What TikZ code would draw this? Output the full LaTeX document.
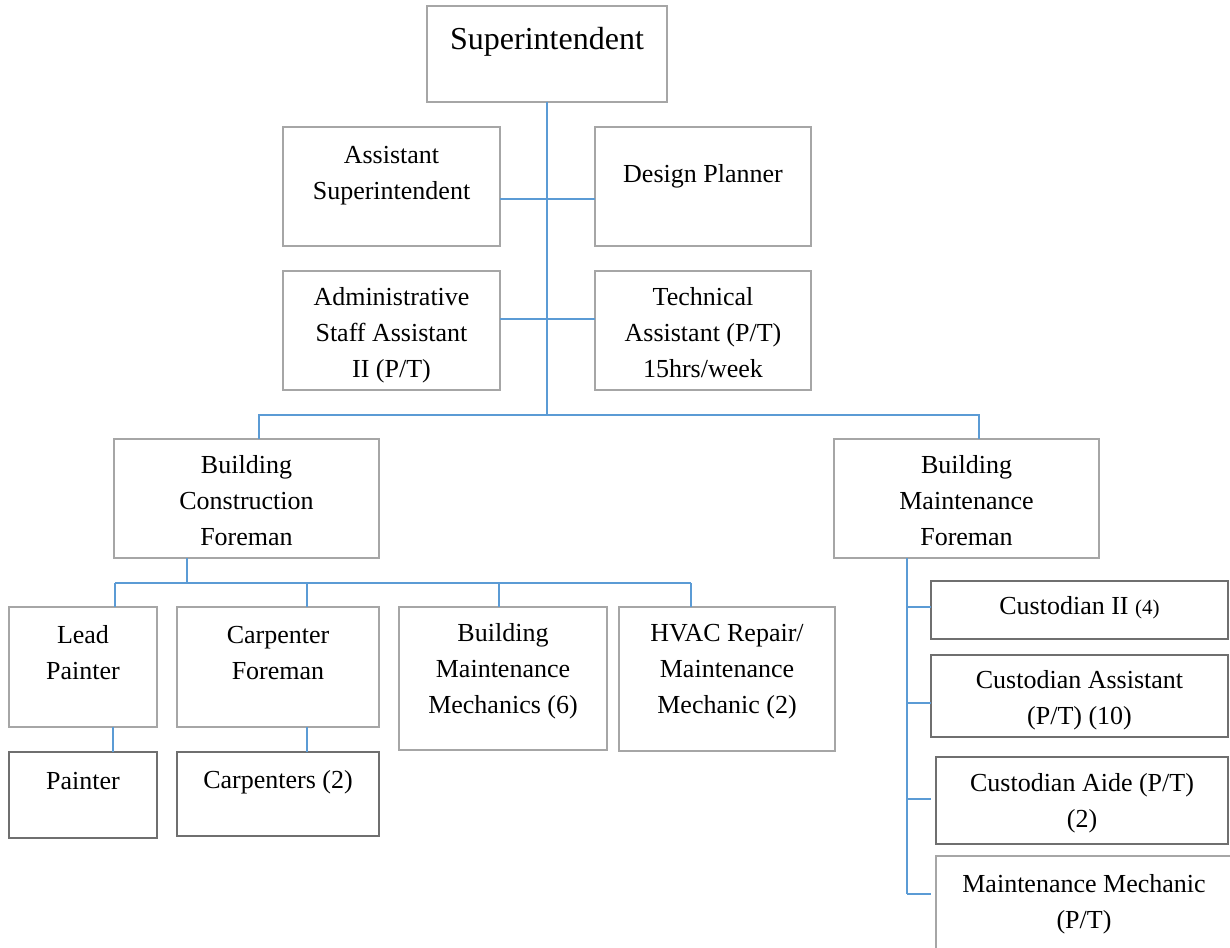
\documentclass[tikz,border=0pt]{standalone}
\usepackage{fontspec}
\setmainfont{Liberation Serif}
\usetikzlibrary{calc}

\definecolor{linkblue}{HTML}{5B9BD5}
\definecolor{boxgray}{HTML}{A6A6A6}
\definecolor{boxdark}{HTML}{6F6F6F}

\tikzset{
  orgbox/.style={draw=boxgray, line width=1.3pt, fill=white, inner sep=0pt,
                 outer sep=0pt, font={\fontsize{26}{36}\selectfont}},
  darkbox/.style={orgbox, draw=boxdark},
  link/.style={draw=linkblue, line width=2pt},
}

% #1 name, #2 style, #3 left, #4 top, #5 width, #6 height,
% #7 distance from top edge to first baseline, #8 text
\newcommand{\orgnode}[8]{%
  \node[#2, anchor=north west] (#1) at (#3,#4)
    {\parbox[t][#6pt][t]{#5pt}{\centering\rule{0pt}{#7pt}#8}};%
}

\begin{document}
\begin{tikzpicture}[x=1pt, y=-1pt]
\useasboundingbox (0,0) rectangle (1230,947);
\clip (0,0) rectangle (1230,947);

% top levels
\orgnode{sup}{orgbox}{427}{6}{240}{96}{44}{{\fontsize{32}{38}\selectfont Superintendent}}
\orgnode{asst}{orgbox}{283}{127}{217}{119}{36}{Assistant\\Superintendent}
\orgnode{design}{orgbox}{595}{127}{216}{119}{55}{Design Planner}
\orgnode{admin}{orgbox}{283}{271}{217}{119}{34}{Administrative\\Staff Assistant\\II (P/T)}
\orgnode{tech}{orgbox}{595}{271}{216}{119}{34}{Technical\\Assistant (P/T)\\15hrs/week}

% foremen
\orgnode{bcf}{orgbox}{114}{439}{265}{119}{34}{Building\\Construction\\Foreman}
\orgnode{bmf}{orgbox}{834}{439}{265}{119}{34}{Building\\Maintenance\\Foreman}

% construction crew
\orgnode{lp}{orgbox}{9}{607}{148}{120}{36}{Lead\\Painter}
\orgnode{cf}{orgbox}{177}{607}{202}{120}{36}{Carpenter\\Foreman}
\orgnode{bmm}{orgbox}{399}{607}{208}{143}{34}{Building\\Maintenance\\Mechanics (6)}
\orgnode{hvac}{orgbox}{619}{607}{216}{144}{34}{HVAC Repair/\\Maintenance\\Mechanic (2)}
\orgnode{pt}{darkbox}{9}{752}{148}{86}{37}{Painter}
\orgnode{cp}{darkbox}{177}{752}{202}{84}{36}{Carpenters (2)}

% maintenance crew
\orgnode{c2}{darkbox}{931}{581}{297}{58}{33}{Custodian II {\fontsize{21}{36}\selectfont (4)}}
\orgnode{ca}{darkbox}{931}{655}{297}{82}{33}{Custodian Assistant\\(P/T) (10)}
\orgnode{aide}{darkbox}{936}{757}{292}{87}{34}{Custodian Aide (P/T)\\(2)}
\orgnode{mm}{orgbox}{936}{856}{296}{104}{36}{Maintenance Mechanic\\(P/T)}

% junction points
\coordinate (hub) at (547,415);
\coordinate (r1) at (547,199);
\coordinate (r2) at (547,319);
\coordinate (cbar) at (187,583);
\coordinate (cb1) at (115,583);
\coordinate (cb2) at (307,583);
\coordinate (cb3) at (499,583);
\coordinate (cb4) at (691,583);
\coordinate (m1) at (907,607);
\coordinate (m2) at (907,703);
\coordinate (m3) at (907,799);
\coordinate (m4) at (907,894);

% superintendent trunk and staff
\draw[link] (sup.south) -- (hub);
\draw[link] (asst.east |- r1) -- (design.west |- r1);
\draw[link] (admin.east |- r2) -- (tech.west |- r2);
\draw[link] ([xshift=12.5pt]bcf.north) |- (hub) -| ([xshift=12.5pt]bmf.north);

% construction foreman
\draw[link] (bcf.south -| cbar) -- (cbar);
\draw[link] (cb1) -- (cb4);
\draw[link] (cb1) -- (cb1 |- lp.north);
\draw[link] (cb2) -- (cb2 |- cf.north);
\draw[link] (cb3) -- (cb3 |- bmm.north);
\draw[link] (cb4) -- (cb4 |- hvac.north);
\draw[link] ([xshift=30pt]lp.south) -- ([xshift=30pt]lp.south |- pt.north);
\draw[link] (cf.south -| cb2) -- (cp.north -| cb2);

% maintenance foreman
\draw[link] (bmf.south -| m4) -- (m4);
\draw[link] (m1) -- (m1 -| c2.west);
\draw[link] (m2) -- (m2 -| ca.west);
\draw[link, shorten >=5pt] (m3) -- (m3 -| aide.west);
\draw[link, shorten >=5pt] (m4) -- (m4 -| mm.west);
\end{tikzpicture}
\end{document}
